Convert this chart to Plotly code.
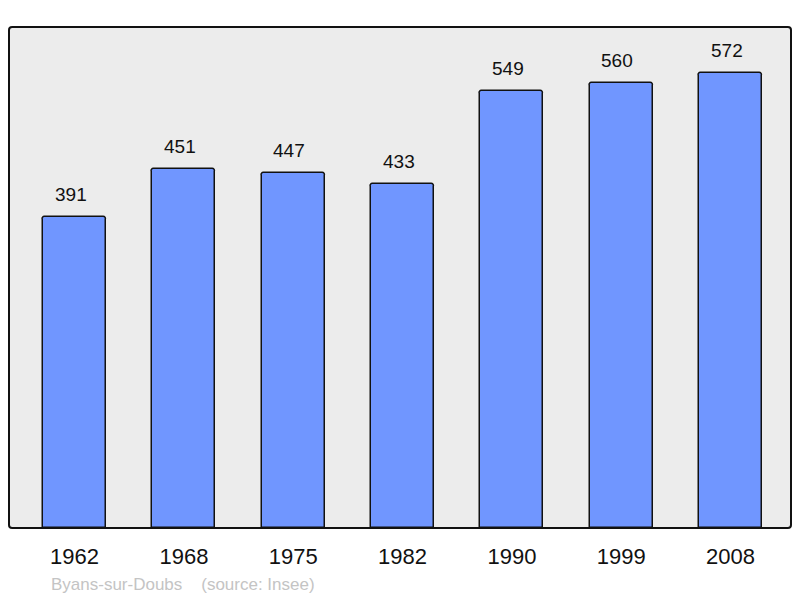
import plotly.graph_objects as go

years = ["1962", "1968", "1975", "1982", "1990", "1999", "2008"]
population = [391, 451, 447, 433, 549, 560, 572]
town = "Byans-sur-Doubs"
source = "(source: Insee)"

FONT = "Liberation Sans, Arial, sans-serif"

fig = go.Figure()
fig.add_trace(go.Bar(
    x=list(range(len(years))), y=population,
    width=0.576,
    marker=dict(color="#7096ff", line=dict(color="#111111", width=1.5), cornerradius=3),
    hoverinfo="y",
))

for i, v in enumerate(population):
    fig.add_annotation(x=i, y=v, xref="x", yref="y", text=str(v), showarrow=False,
                       yanchor="bottom", yshift=10, xshift=-4,
                       font=dict(family=FONT, size=19, color="#111111"))

fig.add_annotation(xref="paper", yref="paper", x=(49 - 9) / 782, y=-(584 - 528) / 501,
                   xanchor="left", yanchor="middle", showarrow=False,
                   text=town + "\u00a0\u00a0\u00a0\u00a0" + source,
                   font=dict(family=FONT, size=17, color="#c4c4c4"))

# frame with rounded corners
fig.add_shape(type="path", xref="paper", yref="paper",
              path="M 0.004,0 L 0.996,0 Q 1,0 1,0.006 L 1,0.994 Q 1,1 0.996,1 "
                   "L 0.004,1 Q 0,1 0,0.994 L 0,0.006 Q 0,0 0.004,0 Z",
              line=dict(color="#111111", width=2), fillcolor="rgba(0,0,0,0)", layer="above")

# page body has an 8px margin: shrink the figure so the plot area sits where the reference has it
fig.update_layout(
    width=792, height=590,
    margin=dict(l=1, r=9, t=19, b=70),
    paper_bgcolor="white",
    plot_bgcolor="#ececec",
    showlegend=False,
    bargap=0,
    xaxis=dict(range=[-0.6, 6.553], showgrid=False, zeroline=False, showline=False,
               ticks="", tickmode="array", tickvals=list(range(len(years))), ticktext=years,
               tickfont=dict(family=FONT, size=22, color="#111111"),
               ticklabelstandoff=13),
    yaxis=dict(range=[0, 630], showgrid=False, zeroline=False, showline=False,
               showticklabels=False, ticks=""),
)

fig.write_html("out.html")
